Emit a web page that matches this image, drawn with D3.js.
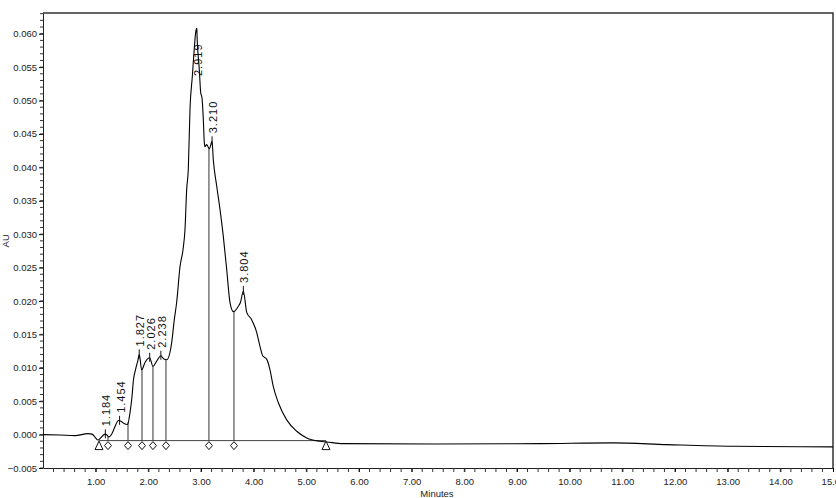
<!DOCTYPE html>
<html>
<head>
<meta charset="utf-8">
<script src="https://cdn.jsdelivr.net/npm/d3@7"></script>
<style>
  body { margin: 0; background: #fff; }
  svg text { font-family: "Liberation Sans", Arial, sans-serif; fill: #222; }
  .peak-label { font-size: 11px; letter-spacing: 1px; fill: #111; }
</style>
</head>
<body>
<svg id="chart" width="836" height="498"></svg>
<script>
// chromatogram trace (minutes, AU)
var traceTime = [0, 0.323, 0.608, 0.854, 0.930, 0.987, 1.044, 1.101, 1.177, 1.215, 1.253, 1.310, 1.367, 1.433, 1.481, 1.538, 1.604,
  1.652, 1.690, 1.718, 1.756, 1.804, 1.827, 1.874, 1.937, 2.026, 2.088, 2.159, 2.238, 2.297, 2.349,
  2.444, 2.493, 2.538, 2.601, 2.664, 2.696, 2.728, 2.759, 2.791, 2.835, 2.867, 2.899, 2.919,
  2.930, 2.968, 2.994, 3.019, 3.044, 3.063, 3.076, 3.108, 3.138, 3.161, 3.210, 3.233, 3.298, 3.361, 3.423, 3.488, 3.550, 3.617,
  3.708, 3.750, 3.804, 3.868, 3.962, 4.057, 4.120, 4.171, 4.247, 4.310, 4.372, 4.467, 4.627, 4.817, 5.007, 5.259, 5.386,
  5.695, 7.40, 9.436, 10.82, 11.85, 13.10, 15.0]
var traceAU = [0, -0.00007, -0.00015, 0.00015, 0.00007, -0.00037, -0.00082, -0.00045, 0.00007, -0.00007, -0.00037, 0.00015, 0.0012, 0.0021, 0.0020, 0.00165, 0.0015,
  0.0033, 0.0057, 0.0082, 0.0097, 0.0112, 0.0120, 0.0097, 0.0108, 0.0115, 0.0102, 0.0110, 0.0118, 0.0113, 0.0112,
  0.0138, 0.0172, 0.0198, 0.0251, 0.0280, 0.0307, 0.0367, 0.0397, 0.0487, 0.0536, 0.0572, 0.0602, 0.0608,
  0.0587, 0.0546, 0.0512, 0.0504, 0.0472, 0.0437, 0.0431, 0.0434, 0.0430, 0.0428, 0.0439, 0.0412, 0.0372, 0.0337, 0.0297, 0.0247, 0.0198, 0.0184,
  0.0192, 0.0198, 0.0215, 0.0183, 0.0172, 0.0153, 0.0132, 0.0118, 0.0113, 0.0097, 0.0072, 0.0048, 0.0022, 0.0005, -0.0005, -0.0010, -0.0011,
  -0.00135, -0.0014, -0.00135, -0.00124, -0.0015, -0.00175, -0.00184]

var peakTimes = [1.184, 1.454, 1.827, 2.026, 2.238, 2.919, 3.210, 3.804]
var dropTimes = [1.234, 1.614, 1.880, 2.088, 2.335, 3.151, 3.626]
var baseStart = 1.063, baseEnd = 5.373, baseAU = -0.0009

var margin = { top: 13, right: 3, bottom: 30, left: 43 }
var width = 836 - margin.left - margin.right
var height = 468 - margin.top

var svg = d3.select('#chart')
var g = svg.append('g').attr('transform', 'translate(' + margin.left + ',' + margin.top + ')')

var x = d3.scaleLinear().domain([0, 15]).range([0, width])
var y = d3.scaleLinear().domain([-0.005, 0.0631]).range([height, 0])

var data = traceTime.map((t, i) => ({ t: t, v: traceAU[i] }))
var valueAt = t => {
  var i = d3.bisector(d => d.t).left(data, t)
  if (i <= 0) return data[0].v
  var a = data[i - 1], b = data[i]
  return a.v + (b.v - a.v) * (t - a.t) / (b.t - a.t)
}

// frame
g.append('path')
  .attr('d', 'M0,0H' + width + 'V' + height)
  .attr('fill', 'none').attr('stroke', '#333').attr('stroke-width', 1.5)

// y axis, major + minor ticks
var yAxis = g.append('g')
  .call(d3.axisLeft(y).tickValues(d3.range(-0.005, 0.0601, 0.005)).tickFormat(d3.format('.3f')).tickSize(4).tickPadding(2).tickSizeOuter(0))
yAxis.selectAll('text').style('font-size', '9.5px')
yAxis.select('.domain').attr('stroke', '#222')
g.append('g').selectAll('line').data(d3.range(-0.005, 0.0631, 0.001)).join('line')
  .attr('x1', -3).attr('x2', 0).attr('y1', d => y(d)).attr('y2', d => y(d)).attr('stroke', '#333')

// x axis
var xAxis = g.append('g').attr('transform', 'translate(0,' + height + ')')
  .call(d3.axisBottom(x).tickValues(d3.range(1, 15.01, 1)).tickFormat(d3.format('.2f')).tickSize(4).tickSizeOuter(0))
xAxis.selectAll('text').style('font-size', '9.5px').attr('dy', '1.1em')
xAxis.select('.domain').attr('stroke', '#222')
g.append('g').selectAll('line').data(d3.range(0.2, 15, 0.2)).join('line')
  .attr('x1', d => x(d)).attr('x2', d => x(d)).attr('y1', height).attr('y2', height + 4).attr('stroke', '#333')

// axis titles
svg.append('text').attr('transform', 'translate(9,' + (margin.top + y(0.029)) + ') rotate(-90)')
  .attr('text-anchor', 'middle').style('font-size', '9.5px').text('AU')
svg.append('text').attr('x', 437).attr('y', 497).attr('text-anchor', 'middle').style('font-size', '9.5px').text('Minutes')

// integration baseline and drop lines
g.append('line').attr('x1', x(baseStart)).attr('x2', x(baseEnd)).attr('y1', y(baseAU)).attr('y2', y(baseAU))
  .attr('stroke', '#444')
g.append('g').selectAll('line').data(dropTimes).join('line')
  .attr('x1', d => x(d)).attr('x2', d => x(d)).attr('y1', y(baseAU)).attr('y2', d => y(valueAt(d)))
  .attr('stroke', '#333')

// trace
g.append('path').datum(data)
  .attr('fill', 'none').attr('stroke', '#000').attr('stroke-width', 1.1).attr('stroke-linejoin', 'round')
  .attr('d', d3.line().x(d => x(d.t)).y(d => y(d.v)).curve(d3.curveMonotoneX))

// markers
var my = y(baseAU) + 5
g.append('g').selectAll('path').data([baseStart, baseEnd]).join('path')
  .attr('d', d => 'M' + x(d) + ',' + (my - 4.5) + 'l4,8.5h-8z')
  .attr('fill', '#fff').attr('stroke', '#111')
g.append('g').selectAll('path').data(dropTimes).join('path')
  .attr('d', d => 'M' + x(d) + ',' + (my - 4) + 'l3.5,4l-3.5,4l-3.5,-4z')
  .attr('fill', '#fff').attr('stroke', '#111')

// peak labels (pushed below the apex when there is no room above)
var labelY = d => Math.max(y(valueAt(d)) - 8, 63)
var pk = g.append('g').selectAll('g').data(peakTimes).join('g')
pk.append('line')
  .attr('x1', d => x(d)).attr('x2', d => x(d))
  .attr('y1', d => y(valueAt(d)) + 4)
  .attr('y2', d => labelY(d) > y(valueAt(d)) ? y(valueAt(d)) : y(valueAt(d)) - 5)
  .attr('stroke', '#111')
pk.append('text').attr('class', 'peak-label')
  .attr('transform', d => 'translate(' + (x(d) + 5) + ',' + labelY(d) + ') rotate(-90)')
  .text(d => d3.format('.3f')(d))
</script>
</body>
</html>
